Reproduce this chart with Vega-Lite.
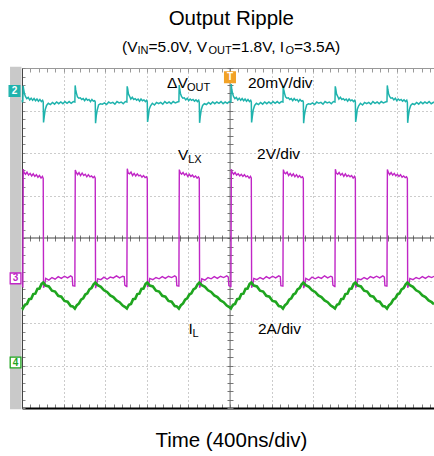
{
"$schema":"https://vega.github.io/schema/vega-lite/v6.json",
"width":412,"height":340,
"autosize":{"type":"none"},
"padding":{"left":22,"top":68,"right":0,"bottom":48},
"background":"white",
"config":{"view":{"stroke":null}},
"resolve":{"axis":{"x":"independent","y":"independent"}},
"datasets":{
"vout":[{"t":0,"v":3.24},{"t":4,"v":3.21},
{"t":8,"v":3.22},{"t":11,"v":3.58},{"t":16,"v":3.5},{"t":23,"v":3.4},{"t":33,"v":3.33},{"t":46,"v":3.28},{"t":60,"v":3.31},{"t":74,"v":3.25},{"t":88,"v":3.29},{"t":102,"v":3.24},{"t":116,"v":3.28},{"t":130,"v":3.23},{"t":144,"v":3.27},{"t":158,"v":3.22},{"t":172,"v":3.26},{"t":186,"v":3.21},{"t":198,"v":3.24},{"t":204,"v":3.2},{"t":207,"v":2.72},{"t":214,"v":2.86},{"t":223,"v":3.02},{"t":236,"v":3.12},{"t":253,"v":3.17},{"t":273,"v":3.14},{"t":293,"v":3.19},{"t":313,"v":3.15},{"t":333,"v":3.2},{"t":353,"v":3.16},{"t":373,"v":3.2},{"t":393,"v":3.16},{"t":413,"v":3.21},{"t":433,"v":3.17},{"t":453,"v":3.21},{"t":473,"v":3.17},{"t":493,"v":3.21},
{"t":508,"v":3.2},{"t":511,"v":3.59},{"t":516,"v":3.49},{"t":523,"v":3.41},{"t":533,"v":3.32},{"t":546,"v":3.29},{"t":560,"v":3.3},{"t":574,"v":3.26},{"t":588,"v":3.28},{"t":602,"v":3.23},{"t":616,"v":3.28},{"t":630,"v":3.24},{"t":644,"v":3.26},{"t":658,"v":3.21},{"t":672,"v":3.26},{"t":686,"v":3.22},{"t":698,"v":3.23},{"t":704,"v":3.2},{"t":707,"v":2.7},{"t":714,"v":2.88},{"t":723,"v":3.01},{"t":736,"v":3.13},{"t":753,"v":3.16},{"t":773,"v":3.15},{"t":793,"v":3.18},{"t":813,"v":3.14},{"t":833,"v":3.2},{"t":853,"v":3.17},{"t":873,"v":3.19},{"t":893,"v":3.15},{"t":913,"v":3.21},{"t":933,"v":3.18},{"t":953,"v":3.2},{"t":973,"v":3.16},{"t":993,"v":3.21},
{"t":1008,"v":3.2},{"t":1011,"v":3.57},{"t":1016,"v":3.51},{"t":1023,"v":3.39},{"t":1033,"v":3.34},{"t":1046,"v":3.27},{"t":1060,"v":3.31},{"t":1074,"v":3.26},{"t":1088,"v":3.28},{"t":1102,"v":3.24},{"t":1116,"v":3.27},{"t":1130,"v":3.22},{"t":1144,"v":3.27},{"t":1158,"v":3.23},{"t":1172,"v":3.25},{"t":1186,"v":3.21},{"t":1198,"v":3.24},{"t":1204,"v":3.2},{"t":1207,"v":2.73},{"t":1214,"v":2.85},{"t":1223,"v":3.03},{"t":1236,"v":3.11},{"t":1253,"v":3.17},{"t":1273,"v":3.13},{"t":1293,"v":3.19},{"t":1313,"v":3.16},{"t":1333,"v":3.19},{"t":1353,"v":3.15},{"t":1373,"v":3.21},{"t":1393,"v":3.17},{"t":1413,"v":3.2},{"t":1433,"v":3.16},{"t":1453,"v":3.21},{"t":1473,"v":3.18},{"t":1493,"v":3.2},
{"t":1508,"v":3.21},{"t":1511,"v":3.6},{"t":1516,"v":3.5},{"t":1523,"v":3.4},{"t":1533,"v":3.33},{"t":1546,"v":3.29},{"t":1560,"v":3.3},{"t":1574,"v":3.25},{"t":1588,"v":3.29},{"t":1602,"v":3.23},{"t":1616,"v":3.27},{"t":1630,"v":3.24},{"t":1644,"v":3.26},{"t":1658,"v":3.22},{"t":1672,"v":3.25},{"t":1686,"v":3.21},{"t":1698,"v":3.24},{"t":1704,"v":3.19},{"t":1707,"v":2.71},{"t":1714,"v":2.87},{"t":1723,"v":3.02},{"t":1736,"v":3.12},{"t":1753,"v":3.16},{"t":1773,"v":3.14},{"t":1793,"v":3.19},{"t":1813,"v":3.15},{"t":1833,"v":3.2},{"t":1853,"v":3.16},{"t":1873,"v":3.2},{"t":1893,"v":3.17},{"t":1913,"v":3.21},{"t":1933,"v":3.16},{"t":1953,"v":3.2},{"t":1973,"v":3.17},{"t":1993,"v":3.21},
{"t":2008,"v":3.2},{"t":2011,"v":3.62},{"t":2016,"v":3.5},{"t":2023,"v":3.41},{"t":2033,"v":3.33},{"t":2046,"v":3.28},{"t":2060,"v":3.31},{"t":2074,"v":3.25},{"t":2088,"v":3.29},{"t":2102,"v":3.24},{"t":2116,"v":3.28},{"t":2130,"v":3.23},{"t":2144,"v":3.27},{"t":2158,"v":3.22},{"t":2172,"v":3.26},{"t":2186,"v":3.21},{"t":2198,"v":3.24},{"t":2204,"v":3.2},{"t":2207,"v":2.72},{"t":2214,"v":2.86},{"t":2223,"v":3.02},{"t":2236,"v":3.12},{"t":2253,"v":3.17},{"t":2273,"v":3.14},{"t":2293,"v":3.19},{"t":2313,"v":3.15},{"t":2333,"v":3.2},{"t":2353,"v":3.16},{"t":2373,"v":3.2},{"t":2393,"v":3.16},{"t":2413,"v":3.21},{"t":2433,"v":3.17},{"t":2453,"v":3.21},{"t":2473,"v":3.17},{"t":2493,"v":3.21},
{"t":2508,"v":3.2},{"t":2511,"v":3.58},{"t":2516,"v":3.49},{"t":2523,"v":3.41},{"t":2533,"v":3.32},{"t":2546,"v":3.29},{"t":2560,"v":3.3},{"t":2574,"v":3.26},{"t":2588,"v":3.28},{"t":2602,"v":3.23},{"t":2616,"v":3.28},{"t":2630,"v":3.24},{"t":2644,"v":3.26},{"t":2658,"v":3.21},{"t":2672,"v":3.26},{"t":2686,"v":3.22},{"t":2698,"v":3.23},{"t":2704,"v":3.2},{"t":2707,"v":2.7},{"t":2714,"v":2.88},{"t":2723,"v":3.01},{"t":2736,"v":3.13},{"t":2753,"v":3.16},{"t":2773,"v":3.15},{"t":2793,"v":3.18},{"t":2813,"v":3.14},{"t":2833,"v":3.2},{"t":2853,"v":3.17},{"t":2873,"v":3.19},{"t":2893,"v":3.15},{"t":2913,"v":3.21},{"t":2933,"v":3.18},{"t":2953,"v":3.2},{"t":2973,"v":3.16},{"t":2993,"v":3.21},
{"t":3008,"v":3.2},{"t":3011,"v":3.57},{"t":3016,"v":3.51},{"t":3023,"v":3.39},{"t":3033,"v":3.34},{"t":3046,"v":3.27},{"t":3060,"v":3.31},{"t":3074,"v":3.26},{"t":3088,"v":3.28},{"t":3102,"v":3.24},{"t":3116,"v":3.27},{"t":3130,"v":3.22},{"t":3144,"v":3.27},{"t":3158,"v":3.23},{"t":3172,"v":3.25},{"t":3186,"v":3.21},{"t":3198,"v":3.24},{"t":3204,"v":3.2},{"t":3207,"v":2.73},{"t":3214,"v":2.85},{"t":3223,"v":3.03},{"t":3236,"v":3.11},{"t":3253,"v":3.17},{"t":3273,"v":3.13},{"t":3293,"v":3.19},{"t":3313,"v":3.16},{"t":3333,"v":3.19},{"t":3353,"v":3.15},{"t":3373,"v":3.21},{"t":3393,"v":3.17},{"t":3413,"v":3.2},{"t":3433,"v":3.16},{"t":3453,"v":3.21},{"t":3473,"v":3.18},{"t":3493,"v":3.2},
{"t":3508,"v":3.21},{"t":3511,"v":3.59},{"t":3516,"v":3.5},{"t":3523,"v":3.4},{"t":3533,"v":3.33},{"t":3546,"v":3.29},{"t":3560,"v":3.3},{"t":3574,"v":3.25},{"t":3588,"v":3.29},{"t":3602,"v":3.23},{"t":3616,"v":3.27},{"t":3630,"v":3.24},{"t":3644,"v":3.26},{"t":3658,"v":3.22},{"t":3672,"v":3.25},{"t":3686,"v":3.21},{"t":3698,"v":3.24},{"t":3704,"v":3.19},{"t":3707,"v":2.71},{"t":3714,"v":2.87},{"t":3723,"v":3.02},{"t":3736,"v":3.12},{"t":3753,"v":3.16},{"t":3773,"v":3.14},{"t":3793,"v":3.19},{"t":3813,"v":3.15},{"t":3833,"v":3.2},{"t":3853,"v":3.16},{"t":3873,"v":3.2},{"t":3893,"v":3.17},{"t":3913,"v":3.21},{"t":3933,"v":3.16},{"t":3960,"v":3.2}],
"vlx":[{"t":0,"v":-1.12},
{"t":8,"v":-1.14},{"t":12,"v":1.62},{"t":20,"v":1.54},{"t":34,"v":1.5},{"t":48,"v":1.55},{"t":63,"v":1.48},{"t":78,"v":1.52},{"t":93,"v":1.46},{"t":108,"v":1.51},{"t":123,"v":1.45},{"t":138,"v":1.49},{"t":153,"v":1.43},{"t":168,"v":1.47},{"t":183,"v":1.41},{"t":196,"v":1.45},{"t":204,"v":1.4},{"t":207,"v":-1.17},{"t":218,"v":-1.1},{"t":228,"v":-0.95},{"t":258,"v":-0.99},{"t":288,"v":-0.93},{"t":318,"v":-0.97},{"t":348,"v":-0.91},{"t":378,"v":-0.95},{"t":408,"v":-0.9},{"t":438,"v":-0.94},{"t":468,"v":-0.89},{"t":483,"v":-0.92},{"t":488,"v":-1.12},{"t":505,"v":-1.13},
{"t":508,"v":-1.13},{"t":512,"v":1.6},{"t":520,"v":1.55},{"t":534,"v":1.49},{"t":548,"v":1.54},{"t":563,"v":1.47},{"t":578,"v":1.53},{"t":593,"v":1.47},{"t":608,"v":1.5},{"t":623,"v":1.44},{"t":638,"v":1.49},{"t":653,"v":1.44},{"t":668,"v":1.46},{"t":683,"v":1.42},{"t":696,"v":1.45},{"t":704,"v":1.41},{"t":707,"v":-1.18},{"t":718,"v":-1.09},{"t":728,"v":-0.96},{"t":758,"v":-0.98},{"t":788,"v":-0.92},{"t":818,"v":-0.97},{"t":848,"v":-0.92},{"t":878,"v":-0.94},{"t":908,"v":-0.89},{"t":938,"v":-0.94},{"t":968,"v":-0.9},{"t":983,"v":-0.91},{"t":988,"v":-1.11},{"t":1005,"v":-1.14},
{"t":1008,"v":-1.14},{"t":1012,"v":1.63},{"t":1020,"v":1.53},{"t":1034,"v":1.51},{"t":1048,"v":1.55},{"t":1063,"v":1.47},{"t":1078,"v":1.52},{"t":1093,"v":1.46},{"t":1108,"v":1.51},{"t":1123,"v":1.46},{"t":1138,"v":1.48},{"t":1153,"v":1.43},{"t":1168,"v":1.47},{"t":1183,"v":1.42},{"t":1196,"v":1.44},{"t":1204,"v":1.4},{"t":1207,"v":-1.16},{"t":1218,"v":-1.1},{"t":1228,"v":-0.95},{"t":1258,"v":-0.98},{"t":1288,"v":-0.93},{"t":1318,"v":-0.96},{"t":1348,"v":-0.91},{"t":1378,"v":-0.95},{"t":1408,"v":-0.9},{"t":1438,"v":-0.93},{"t":1468,"v":-0.89},{"t":1483,"v":-0.92},{"t":1488,"v":-1.12},{"t":1505,"v":-1.13},
{"t":1508,"v":-1.13},{"t":1512,"v":1.61},{"t":1520,"v":1.54},{"t":1534,"v":1.5},{"t":1548,"v":1.54},{"t":1563,"v":1.48},{"t":1578,"v":1.52},{"t":1593,"v":1.45},{"t":1608,"v":1.5},{"t":1623,"v":1.45},{"t":1638,"v":1.48},{"t":1653,"v":1.43},{"t":1668,"v":1.46},{"t":1683,"v":1.41},{"t":1696,"v":1.44},{"t":1704,"v":1.4},{"t":1707,"v":-1.17},{"t":1718,"v":-1.1},{"t":1728,"v":-0.96},{"t":1758,"v":-0.99},{"t":1788,"v":-0.93},{"t":1818,"v":-0.96},{"t":1848,"v":-0.91},{"t":1878,"v":-0.95},{"t":1908,"v":-0.9},{"t":1938,"v":-0.93},{"t":1968,"v":-0.89},{"t":1983,"v":-0.92},{"t":1988,"v":-1.12},{"t":2005,"v":-1.14},
{"t":2008,"v":-1.14},{"t":2012,"v":1.62},{"t":2020,"v":1.55},{"t":2034,"v":1.5},{"t":2048,"v":1.54},{"t":2063,"v":1.48},{"t":2078,"v":1.51},{"t":2093,"v":1.46},{"t":2108,"v":1.5},{"t":2123,"v":1.45},{"t":2138,"v":1.49},{"t":2153,"v":1.44},{"t":2168,"v":1.46},{"t":2183,"v":1.41},{"t":2196,"v":1.45},{"t":2204,"v":1.41},{"t":2207,"v":-1.17},{"t":2218,"v":-1.09},{"t":2228,"v":-0.95},{"t":2258,"v":-0.98},{"t":2288,"v":-0.93},{"t":2318,"v":-0.97},{"t":2348,"v":-0.91},{"t":2378,"v":-0.95},{"t":2408,"v":-0.9},{"t":2438,"v":-0.94},{"t":2468,"v":-0.89},{"t":2483,"v":-0.91},{"t":2488,"v":-1.12},{"t":2505,"v":-1.13},
{"t":2508,"v":-1.13},{"t":2512,"v":1.61},{"t":2520,"v":1.54},{"t":2534,"v":1.51},{"t":2548,"v":1.55},{"t":2563,"v":1.47},{"t":2578,"v":1.52},{"t":2593,"v":1.46},{"t":2608,"v":1.51},{"t":2623,"v":1.44},{"t":2638,"v":1.49},{"t":2653,"v":1.43},{"t":2668,"v":1.47},{"t":2683,"v":1.42},{"t":2696,"v":1.44},{"t":2704,"v":1.4},{"t":2707,"v":-1.18},{"t":2718,"v":-1.1},{"t":2728,"v":-0.95},{"t":2758,"v":-0.99},{"t":2788,"v":-0.92},{"t":2818,"v":-0.96},{"t":2848,"v":-0.92},{"t":2878,"v":-0.95},{"t":2908,"v":-0.89},{"t":2938,"v":-0.94},{"t":2968,"v":-0.9},{"t":2983,"v":-0.92},{"t":2988,"v":-1.11},{"t":3005,"v":-1.14},
{"t":3008,"v":-1.14},{"t":3012,"v":1.62},{"t":3020,"v":1.53},{"t":3034,"v":1.5},{"t":3048,"v":1.54},{"t":3063,"v":1.48},{"t":3078,"v":1.52},{"t":3093,"v":1.45},{"t":3108,"v":1.51},{"t":3123,"v":1.45},{"t":3138,"v":1.48},{"t":3153,"v":1.44},{"t":3168,"v":1.47},{"t":3183,"v":1.41},{"t":3196,"v":1.45},{"t":3204,"v":1.4},{"t":3207,"v":-1.17},{"t":3218,"v":-1.1},{"t":3228,"v":-0.96},{"t":3258,"v":-0.98},{"t":3288,"v":-0.93},{"t":3318,"v":-0.97},{"t":3348,"v":-0.91},{"t":3378,"v":-0.94},{"t":3408,"v":-0.9},{"t":3438,"v":-0.94},{"t":3468,"v":-0.89},{"t":3483,"v":-0.92},{"t":3488,"v":-1.12},{"t":3505,"v":-1.13},
{"t":3508,"v":-1.13},{"t":3512,"v":1.61},{"t":3520,"v":1.55},{"t":3534,"v":1.49},{"t":3548,"v":1.54},{"t":3563,"v":1.48},{"t":3578,"v":1.52},{"t":3593,"v":1.46},{"t":3608,"v":1.5},{"t":3623,"v":1.45},{"t":3638,"v":1.49},{"t":3653,"v":1.43},{"t":3668,"v":1.46},{"t":3683,"v":1.42},{"t":3696,"v":1.44},{"t":3704,"v":1.4},{"t":3707,"v":-1.17},{"t":3718,"v":-1.1},{"t":3728,"v":-0.95},{"t":3758,"v":-0.98},{"t":3788,"v":-0.93},{"t":3818,"v":-0.96},{"t":3848,"v":-0.91},{"t":3878,"v":-0.95},{"t":3908,"v":-0.9},{"t":3938,"v":-0.93},{"t":3960,"v":-0.9}],
"il":[{"t":0,"v":-1.63},
{"t":8,"v":-1.66},{"t":28,"v":-1.57},{"t":48,"v":-1.55},{"t":68,"v":-1.44},{"t":88,"v":-1.43},{"t":108,"v":-1.32},{"t":128,"v":-1.31},{"t":148,"v":-1.2},{"t":168,"v":-1.19},{"t":188,"v":-1.08},{"t":205,"v":-1.05},{"t":228,"v":-1.12},{"t":258,"v":-1.14},{"t":288,"v":-1.24},{"t":318,"v":-1.26},{"t":348,"v":-1.36},{"t":378,"v":-1.38},{"t":408,"v":-1.48},{"t":438,"v":-1.5},{"t":468,"v":-1.6},{"t":488,"v":-1.61},
{"t":508,"v":-1.66},{"t":528,"v":-1.58},{"t":548,"v":-1.54},{"t":568,"v":-1.45},{"t":588,"v":-1.42},{"t":608,"v":-1.33},{"t":628,"v":-1.3},{"t":648,"v":-1.21},{"t":668,"v":-1.18},{"t":688,"v":-1.09},{"t":705,"v":-1.05},{"t":728,"v":-1.11},{"t":758,"v":-1.15},{"t":788,"v":-1.23},{"t":818,"v":-1.27},{"t":848,"v":-1.35},{"t":878,"v":-1.39},{"t":908,"v":-1.47},{"t":938,"v":-1.51},{"t":968,"v":-1.59},{"t":988,"v":-1.62},
{"t":1008,"v":-1.66},{"t":1028,"v":-1.57},{"t":1048,"v":-1.55},{"t":1068,"v":-1.44},{"t":1088,"v":-1.43},{"t":1108,"v":-1.32},{"t":1128,"v":-1.31},{"t":1148,"v":-1.2},{"t":1168,"v":-1.19},{"t":1188,"v":-1.08},{"t":1205,"v":-1.05},{"t":1228,"v":-1.12},{"t":1258,"v":-1.14},{"t":1288,"v":-1.24},{"t":1318,"v":-1.26},{"t":1348,"v":-1.36},{"t":1378,"v":-1.38},{"t":1408,"v":-1.48},{"t":1438,"v":-1.5},{"t":1468,"v":-1.6},{"t":1488,"v":-1.61},
{"t":1508,"v":-1.66},{"t":1528,"v":-1.58},{"t":1548,"v":-1.54},{"t":1568,"v":-1.45},{"t":1588,"v":-1.42},{"t":1608,"v":-1.33},{"t":1628,"v":-1.3},{"t":1648,"v":-1.21},{"t":1668,"v":-1.18},{"t":1688,"v":-1.09},{"t":1705,"v":-1.05},{"t":1728,"v":-1.11},{"t":1758,"v":-1.15},{"t":1788,"v":-1.23},{"t":1818,"v":-1.27},{"t":1848,"v":-1.35},{"t":1878,"v":-1.39},{"t":1908,"v":-1.47},{"t":1938,"v":-1.51},{"t":1968,"v":-1.59},{"t":1988,"v":-1.62},
{"t":2008,"v":-1.66},{"t":2028,"v":-1.57},{"t":2048,"v":-1.55},{"t":2068,"v":-1.44},{"t":2088,"v":-1.43},{"t":2108,"v":-1.32},{"t":2128,"v":-1.31},{"t":2148,"v":-1.2},{"t":2168,"v":-1.19},{"t":2188,"v":-1.08},{"t":2205,"v":-1.05},{"t":2228,"v":-1.12},{"t":2258,"v":-1.14},{"t":2288,"v":-1.24},{"t":2318,"v":-1.26},{"t":2348,"v":-1.36},{"t":2378,"v":-1.38},{"t":2408,"v":-1.48},{"t":2438,"v":-1.5},{"t":2468,"v":-1.6},{"t":2488,"v":-1.61},
{"t":2508,"v":-1.66},{"t":2528,"v":-1.58},{"t":2548,"v":-1.54},{"t":2568,"v":-1.45},{"t":2588,"v":-1.42},{"t":2608,"v":-1.33},{"t":2628,"v":-1.3},{"t":2648,"v":-1.21},{"t":2668,"v":-1.18},{"t":2688,"v":-1.09},{"t":2705,"v":-1.05},{"t":2728,"v":-1.11},{"t":2758,"v":-1.15},{"t":2788,"v":-1.23},{"t":2818,"v":-1.27},{"t":2848,"v":-1.35},{"t":2878,"v":-1.39},{"t":2908,"v":-1.47},{"t":2938,"v":-1.51},{"t":2968,"v":-1.59},{"t":2988,"v":-1.62},
{"t":3008,"v":-1.66},{"t":3028,"v":-1.57},{"t":3048,"v":-1.55},{"t":3068,"v":-1.44},{"t":3088,"v":-1.43},{"t":3108,"v":-1.32},{"t":3128,"v":-1.31},{"t":3148,"v":-1.2},{"t":3168,"v":-1.19},{"t":3188,"v":-1.08},{"t":3205,"v":-1.05},{"t":3228,"v":-1.12},{"t":3258,"v":-1.14},{"t":3288,"v":-1.24},{"t":3318,"v":-1.26},{"t":3348,"v":-1.36},{"t":3378,"v":-1.38},{"t":3408,"v":-1.48},{"t":3438,"v":-1.5},{"t":3468,"v":-1.6},{"t":3488,"v":-1.61},
{"t":3508,"v":-1.66},{"t":3528,"v":-1.58},{"t":3548,"v":-1.54},{"t":3568,"v":-1.45},{"t":3588,"v":-1.42},{"t":3608,"v":-1.33},{"t":3628,"v":-1.3},{"t":3648,"v":-1.21},{"t":3668,"v":-1.18},{"t":3688,"v":-1.09},{"t":3705,"v":-1.05},{"t":3728,"v":-1.11},{"t":3758,"v":-1.15},{"t":3788,"v":-1.23},{"t":3818,"v":-1.27},{"t":3848,"v":-1.35},{"t":3878,"v":-1.39},{"t":3908,"v":-1.47},{"t":3938,"v":-1.51},{"t":3960,"v":-1.56}],
"marks":[{"m":"2","t":-72,"v":3.46},{"m":"3","t":-62,"v":-0.95},{"m":"4","t":-62,"v":-2.93},{"m":"T","t":1999,"v":3.78}],
"big":[{"txt":"Output Ripple","t":2012,"v":5.01},{"txt":"Time (400ns/div)","t":2012,"v":-4.92}],
"main":[{"txt":"(V","t":961,"v":4.376},{"txt":"=5.0V, V","t":1216,"v":4.376},{"txt":"=1.8V, I","t":2015,"v":4.376},{"txt":"=3.5A)","t":2615,"v":4.376},{"txt":"ΔV","t":1394,"v":3.52},{"txt":"20mV/div","t":2172,"v":3.52},{"txt":"V","t":1499,"v":1.84},{"txt":"2V/div","t":2259,"v":1.85},{"txt":"I","t":1600,"v":-2.26},{"txt":"2A/div","t":2268,"v":-2.26}],
"sub":[{"txt":"IN","t":1110,"v":4.33},{"txt":"OUT","t":1792,"v":4.33},{"txt":"O","t":2533,"v":4.33},{"txt":"OUT","t":1586,"v":3.47},{"txt":"LX","t":1598,"v":1.77},{"txt":"L","t":1639,"v":-2.33}]
},
"layer":[
{"data":{"values":[{}]},"mark":{"type":"rect","color":"#c9c9c9"},
 "encoding":{
  "x":{"datum":-115,"type":"quantitative","scale":{"domain":[0,3960],"nice":false,"zero":false},
   "axis":{"orient":"bottom","title":null,"labels":false,"domainColor":"#000000","domainWidth":2,"tickColor":"#808080","tickSize":-4,"tickWidth":1,
   "values":[0,80,160,240,320,400,480,560,640,720,800,880,960,1040,1120,1200,1280,1360,1440,1520,1600,1680,1760,1840,1920,2000,2080,2160,2240,2320,2400,2480,2560,2640,2720,2800,2880,2960,3040,3120,3200,3280,3360,3440,3520,3600,3680,3760,3840,3920],
   "grid":true,"gridColor":"#999999","gridDash":[1,3],"gridWidth":1,
   "gridOpacity":{"condition":{"test":"datum.value % 400 == 0 && datum.value > 0 && datum.value != 2000","value":1},"value":0}}},
  "x2":{"datum":-5},
  "y":{"datum":-4.03,"type":"quantitative","scale":{"domain":[-4,4],"nice":false,"zero":false},
   "axis":{"orient":"left","title":null,"labels":false,"domainColor":"#444444","domainWidth":1,"tickColor":"#888888","tickSize":-3,
   "values":[-4,-3.8,-3.6,-3.4,-3.2,-3,-2.8,-2.6,-2.4,-2.2,-2,-1.8,-1.6,-1.4,-1.2,-1,-0.8,-0.6,-0.4,-0.2,0,0.2,0.4,0.6,0.8,1,1.2,1.4,1.6,1.8,2,2.2,2.4,2.6,2.8,3,3.2,3.4,3.6,3.8,4],
   "grid":true,"gridColor":"#999999","gridDash":[1,3],"gridWidth":1,
   "gridOpacity":{"condition":{"test":"abs(datum.value - round(datum.value)) < 0.01 && abs(datum.value) > 0.5 && abs(datum.value) < 3.5","value":1},"value":0}}},
  "y2":{"datum":4.03}}},
{"data":{"values":[{}]},"mark":{"type":"rule","color":"#666666","strokeWidth":1},
 "encoding":{"x":{"datum":2000,"type":"quantitative","scale":{"domain":[0,3960],"nice":false,"zero":false},
   "axis":{"orient":"top","title":null,"labels":false,"domainColor":"#999999","domainWidth":1,"tickColor":"#999999","tickSize":-4,"grid":false,
   "values":[0,80,160,240,320,400,480,560,640,720,800,880,960,1040,1120,1200,1280,1360,1440,1520,1600,1680,1760,1840,1920,2000,2080,2160,2240,2320,2400,2480,2560,2640,2720,2800,2880,2960,3040,3120,3200,3280,3360,3440,3520,3600,3680,3760,3840,3920]}}}},
{"data":{"values":[{}]},"mark":{"type":"rule","color":"#444444","strokeWidth":1.2},
 "encoding":{"y":{"datum":0,"type":"quantitative","scale":{"domain":[-4,4],"nice":false,"zero":false},
   "axis":{"orient":"left","offset":-211,"title":null,"labels":false,"domain":false,"tickColor":"#777777","tickSize":6,"grid":false,
   "values":[-4,-3.8,-3.6,-3.4,-3.2,-3,-2.8,-2.6,-2.4,-2.2,-2,-1.8,-1.6,-1.4,-1.2,-1,-0.8,-0.6,-0.4,-0.2,0,0.2,0.4,0.6,0.8,1,1.2,1.4,1.6,1.8,2,2.2,2.4,2.6,2.8,3,3.2,3.4,3.6,3.8,4]}}}},
{"data":{"name":"vout"},"mark":{"type":"line","color":"#1fb3ad","strokeWidth":1.5},
 "encoding":{"x":{"field":"t","type":"quantitative","scale":{"domain":[0,3960],"nice":false,"zero":false},"axis":null},
  "y":{"field":"v","type":"quantitative","scale":{"domain":[-4,4],"nice":false,"zero":false},"axis":null}}},
{"data":{"name":"vlx"},"mark":{"type":"line","color":"#c026c6","strokeWidth":1.4},
 "encoding":{"x":{"field":"t","type":"quantitative","scale":{"domain":[0,3960],"nice":false,"zero":false},"axis":null},
  "y":{"field":"v","type":"quantitative","scale":{"domain":[-4,4],"nice":false,"zero":false},"axis":null}}},
{"data":{"name":"il"},"mark":{"type":"line","color":"#1fa51f","strokeWidth":2.6},
 "encoding":{"x":{"field":"t","type":"quantitative","scale":{"domain":[0,3960],"nice":false,"zero":false},"axis":null},
  "y":{"field":"v","type":"quantitative","scale":{"domain":[-4,4],"nice":false,"zero":false},"axis":null}}},
{"data":{"name":"marks"},"mark":{"type":"point","shape":"square","size":115,"filled":true,"strokeWidth":1.3,"opacity":1},
 "encoding":{"x":{"field":"t","type":"quantitative","scale":{"domain":[0,3960],"nice":false,"zero":false},
   "axis":{"orient":"bottom","offset":-173,"title":null,"labels":false,"domain":false,"tickColor":"#777777","tickSize":6,"grid":false,
   "values":[0,80,160,240,320,400,480,560,640,720,800,880,960,1040,1120,1200,1280,1360,1440,1520,1600,1680,1760,1840,1920,2000,2080,2160,2240,2320,2400,2480,2560,2640,2720,2800,2880,2960,3040,3120,3200,3280,3360,3440,3520,3600,3680,3760,3840,3920]}},
  "y":{"field":"v","type":"quantitative","scale":{"domain":[-4,4],"nice":false,"zero":false},"axis":null},
  "fill":{"condition":{"test":"datum.m == '3' || datum.m == '4'","value":"#ffffff"},"field":"m","type":"nominal","scale":{"domain":["2","3","4","T"],"range":["#1fb3ad","#c026c6","#1fa51f","#f2a227"]},"legend":null},
  "stroke":{"field":"m","type":"nominal","scale":{"domain":["2","3","4","T"],"range":["#1fb3ad","#c026c6","#1fa51f","#f2a227"]},"legend":null}}},
{"data":{"name":"marks"},"mark":{"type":"text","font":"Liberation Sans","fontSize":10,"fontWeight":"bold","align":"center","baseline":"middle"},
 "encoding":{"x":{"field":"t","type":"quantitative","scale":{"domain":[0,3960],"nice":false,"zero":false},"axis":null},
  "y":{"field":"v","type":"quantitative","scale":{"domain":[-4,4],"nice":false,"zero":false},"axis":null},
  "text":{"field":"m"},
  "color":{"condition":{"test":"datum.m == '2' || datum.m == 'T'","value":"#ffffff"},"field":"m","type":"nominal","scale":{"domain":["2","3","4","T"],"range":["#1fb3ad","#c026c6","#1fa51f","#f2a227"]},"legend":null}}},
{"data":{"name":"main"},"mark":{"type":"text","font":"Liberation Sans","fontSize":15.5,"align":"left","baseline":"alphabetic","color":"#000000"},
 "encoding":{"x":{"field":"t","type":"quantitative","scale":{"domain":[0,3960],"nice":false,"zero":false},"axis":null},
  "y":{"field":"v","type":"quantitative","scale":{"domain":[-4,4],"nice":false,"zero":false},"axis":null},
  "text":{"field":"txt"}}},
{"data":{"name":"sub"},"mark":{"type":"text","font":"Liberation Sans","fontSize":11,"align":"left","baseline":"alphabetic","color":"#000000"},
 "encoding":{"x":{"field":"t","type":"quantitative","scale":{"domain":[0,3960],"nice":false,"zero":false},"axis":null},
  "y":{"field":"v","type":"quantitative","scale":{"domain":[-4,4],"nice":false,"zero":false},"axis":null},
  "text":{"field":"txt"}}},
{"data":{"name":"big"},"mark":{"type":"text","font":"Liberation Sans","fontSize":20.5,"align":"center","baseline":"alphabetic","color":"#000000"},
 "encoding":{"x":{"field":"t","type":"quantitative","scale":{"domain":[0,3960],"nice":false,"zero":false},"axis":null},
  "y":{"field":"v","type":"quantitative","scale":{"domain":[-4,4],"nice":false,"zero":false},"axis":null},
  "text":{"field":"txt"}}}
]
}
